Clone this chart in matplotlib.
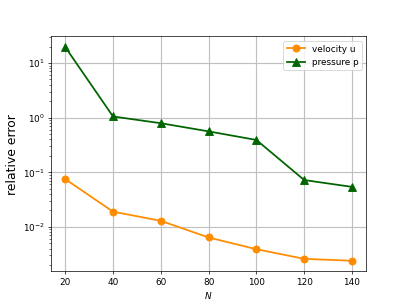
import matplotlib
matplotlib.use('Agg')
import matplotlib.pyplot as plt

N = [20, 40, 60, 80, 100, 120, 140]
err_u = [0.075, 0.019, 0.0129, 0.0064, 0.0039, 0.0026, 0.0024]
err_p = [19.6, 1.05, 0.79, 0.56, 0.39, 0.072, 0.054]

fig = plt.figure(figsize=(6.4, 4.8), dpi=63.6)
plt.semilogy(N, err_u, 'o-', color='darkorange', lw=2, ms=8, label='velocity u')
plt.semilogy(N, err_p, '^-', color='darkgreen', lw=2, ms=8, label='pressure p')
plt.xlabel('$N$')
plt.ylabel('relative error', fontsize=14)
plt.grid(True, lw=1.3, color='#c0c0c0')
plt.legend(loc='upper right')
plt.savefig('out.png', dpi=63.6)
